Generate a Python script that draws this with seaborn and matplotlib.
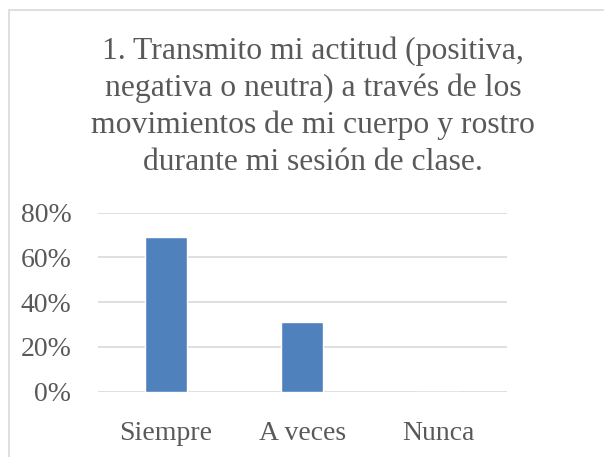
import pandas as pd
import matplotlib.pyplot as plt
import matplotlib.patches as mpatches
import seaborn as sns
from matplotlib.ticker import PercentFormatter

categorias = ['Siempre', 'A veces', 'Nunca']
porcentajes = [0.69, 0.31, 0.0]
titulo = ('1. Transmito mi actitud (positiva,\n'
          'negativa o neutra) a través de los\n'
          'movimientos de mi cuerpo y rostro\n'
          'durante mi sesión de clase.')

sns.set_theme(style="white")
plt.rcParams['font.family'] = ['Liberation Serif', 'DejaVu Serif']

df = pd.DataFrame({'Respuesta': categorias, 'Porcentaje': porcentajes})

fig = plt.figure(figsize=(6.04, 4.57), dpi=100)
ax = fig.add_axes([0.162, 0.143, 0.677, 0.392])

sns.barplot(data=df, x='Respuesta', y='Porcentaje', color='#4F81BD',
            width=0.31, saturation=1, ax=ax, zorder=3)

ax.set_ylim(0, 0.8)
ax.set_yticks([0, 0.2, 0.4, 0.6, 0.8])
ax.yaxis.set_major_formatter(PercentFormatter(1.0, decimals=0))
ax.grid(axis='y', color='#D9D9D9', linewidth=1.2, zorder=0)
ax.set_axisbelow(True)
for s in ax.spines.values():
    s.set_visible(False)
ax.set_xlabel('')
ax.set_ylabel('')
ax.tick_params(axis='both', length=0, labelsize=20, labelcolor='#595959')
ax.tick_params(axis='y', pad=19)
ax.tick_params(axis='x', pad=21)

fig.text(0.518, 1 - 37 / 457, titulo, ha='center', va='top', fontsize=22.8,
         color='#595959', linespacing=1.33)

# chart frame
fig.patches.append(mpatches.Rectangle((9 / 604, -0.1), 1.2, 1 - 10 / 457 + 0.1,
                                      transform=fig.transFigure, fill=False,
                                      edgecolor='#D9D9D9', linewidth=1.2))

fig.savefig('out.png', dpi=100)
